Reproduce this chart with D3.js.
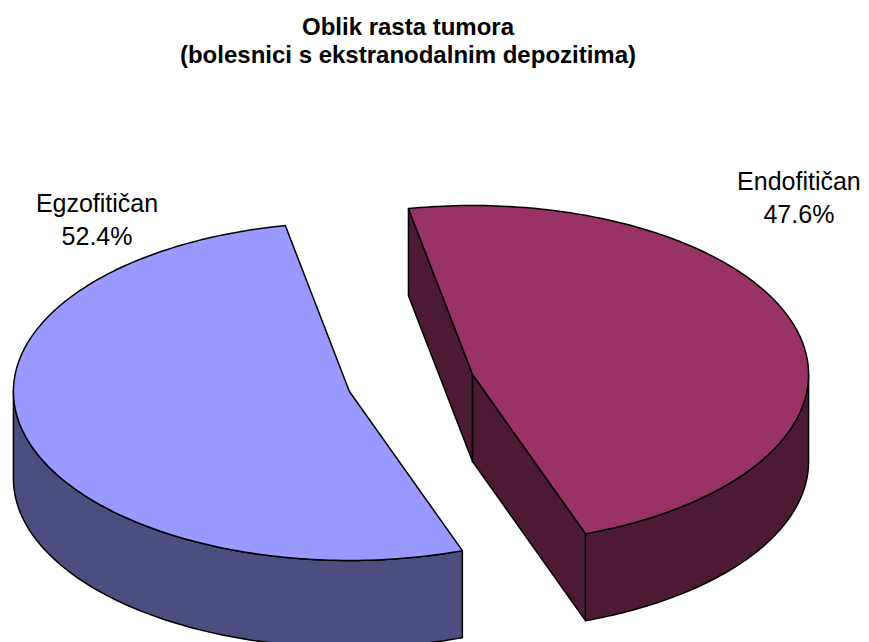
<!DOCTYPE html>
<html>
<head>
<meta charset="utf-8">
<script src="https://cdn.jsdelivr.net/npm/d3@7"></script>
<style>
body { margin: 0; background: #fff; }
text { font-family: "Liberation Sans", Arial, sans-serif; fill: #000; }
</style>
</head>
<body>
<svg id="chart" width="869" height="642"></svg>
<script>
const categories = ["Endofitičan", "Egzofitičan"]
const values = [47.6, 52.4]
const topColors = ["#993366", "#9999ff"]
const sideColors = ["#4d1a33", "#4d4d80"]
const titleLines = ["Oblik rasta tumora", "(bolesnici s ekstranodalnim depozitima)"]

// layout of the 3d pie (ellipse radii, thickness, explosion)
const cx = 411, cy = 383, rx = 336, ry = 169, depth = 87, explode = 0.19
const rad = Math.PI / 180
const labelAngles = [41.7 * rad, -35.3 * rad]   // where each label sits, around its slice
const labelDist = [1.46, 1.30]

const svg = d3.select("#chart")

const pie = d3.pie()
    .sort(null)
    .value(d => d.value)
    .startAngle(-11 * rad)
    .endAngle(349 * rad)

const slices = pie(categories.map((c, i) => ({name: c, value: values[i], i: i})))

slices.forEach(s => {
    const mid = (s.startAngle + s.endAngle) / 2
    s.cx = cx + explode * rx * Math.sin(mid)
    s.cy = cy - explode * ry * Math.cos(mid)
})

function pt(s, a, dz) {
    return [s.cx + rx * Math.sin(a), s.cy - ry * Math.cos(a) + (dz || 0)]
}

function arcPts(s, a0, a1, dz) {
    const n = Math.max(2, Math.ceil(Math.abs(a1 - a0) / (1 * rad)))
    return d3.range(n + 1).map(k => pt(s, a0 + (a1 - a0) * k / n, dz))
}

const line = d3.line()

// front part of the rim: angles between 90 and 270 degrees
function frontRange(a0, a1) {
    for (const off of [-2 * Math.PI, 0, 2 * Math.PI]) {
        const lo = Math.max(a0, Math.PI / 2 + off)
        const hi = Math.min(a1, 3 * Math.PI / 2 + off)
        if (hi > lo) return [lo, hi]
    }
    return null
}

const g = svg.append("g")

slices.forEach(s => {
    const gs = g.append("g")
    const c0 = [s.cx, s.cy], c1 = [s.cx, s.cy + depth]

    // radial walls, only those turned towards the viewer
    const walls = []
    if (Math.sin(s.startAngle) < 0) walls.push(s.startAngle)
    if (Math.sin(s.endAngle) > 0) walls.push(s.endAngle)
    walls.forEach(a => {
        gs.append("path")
            .attr("d", line([c0, pt(s, a), pt(s, a, depth), c1]) + "Z")
            .attr("fill", sideColors[s.data.i])
            .attr("stroke", "#000")
            .attr("stroke-width", 1.5)
            .attr("stroke-linejoin", "round")
    })

    // outer rim
    const fr = frontRange(s.startAngle, s.endAngle)
    if (fr) {
        const top = arcPts(s, fr[0], fr[1], 0)
        const bottom = arcPts(s, fr[1], fr[0], depth)
        gs.append("path")
            .attr("d", line(top.concat(bottom)) + "Z")
            .attr("fill", sideColors[s.data.i])
            .attr("stroke", "#000")
            .attr("stroke-width", 1.5)
            .attr("stroke-linejoin", "round")
    }

    // top face
    gs.append("path")
        .attr("d", line([c0].concat(arcPts(s, s.startAngle, s.endAngle, 0))) + "Z")
        .attr("fill", topColors[s.data.i])
        .attr("stroke", "#000")
        .attr("stroke-width", 1.5)
        .attr("stroke-linejoin", "round")
})

// data labels
const labels = svg.append("g")
    .selectAll("text")
    .data(slices)
    .join("text")
    .attr("text-anchor", "middle")
    .style("font-size", "25px")
    .attr("transform", (s, i) => {
        const a = labelAngles[i], r = labelDist[i]
        return "translate(" + (s.cx + r * rx * Math.sin(a)) + "," + (s.cy - r * ry * Math.cos(a)) + ")"
    })

labels.append("tspan")
    .attr("x", 0)
    .attr("y", 0)
    .text(s => s.data.name)
labels.append("tspan")
    .attr("x", 0)
    .attr("y", 33)
    .text(s => d3.format(".1f")(s.data.value) + "%")

// title
svg.append("g")
    .selectAll("text")
    .data(titleLines)
    .join("text")
    .attr("x", 408)
    .attr("y", (d, i) => 35 + i * 28)
    .attr("text-anchor", "middle")
    .style("font-size", "24px")
    .style("font-weight", "bold")
    .text(d => d)
</script>
</body>
</html>
